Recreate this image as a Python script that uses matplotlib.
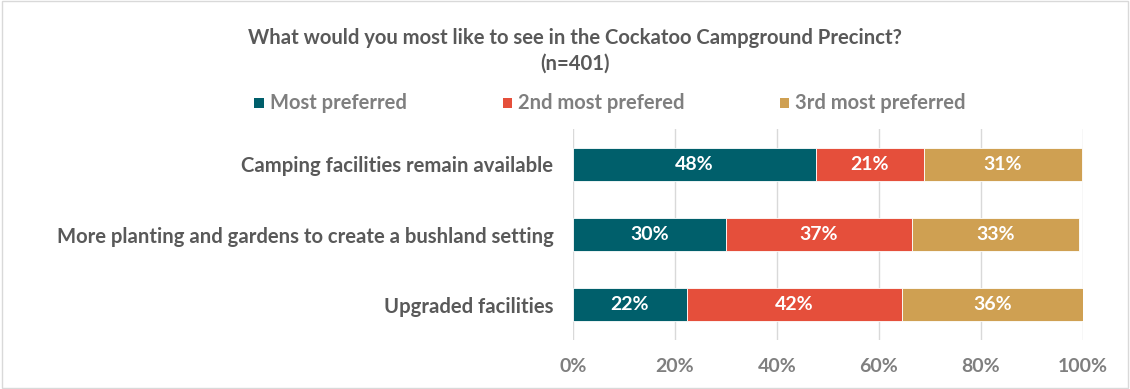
import matplotlib
matplotlib.use('Agg')
import matplotlib.pyplot as plt
from matplotlib.patches import Rectangle
import numpy as np

plt.rcParams['font.family'] = ['Lato', 'DejaVu Sans']

# Data
categories = ['Camping facilities remain available',
              'More planting and gardens to create a bushland setting',
              'Upgraded facilities']
series_names = ['Most preferred', '2nd most prefered', '3rd most preferred']
most_pref = [47.7, 30.0, 22.4]
second_pref = [21.1, 36.5, 42.1]
third_pref = [31.0, 32.8, 35.9]
value_labels = [['48%', '30%', '22%'],
                ['21%', '37%', '42%'],
                ['31%', '33%', '36%']]
ticks = [0, 20, 40, 60, 80, 100]

colors = ['#005F6B', '#E54F3B', '#CFA052']
text_gray = '#595959'

fig = plt.figure(figsize=(11.3, 3.89), dpi=100)
ax = fig.add_axes([0.507, 0.126, 0.451, 0.542])

y = np.arange(len(categories))
left = np.zeros(len(categories))
for i, vals in enumerate([most_pref, second_pref, third_pref]):
    bars = ax.barh(y, vals, left=left, height=0.47, color=colors[i],
                   edgecolor='white', linewidth=0.6, label=series_names[i], zorder=3)
    for j, b in enumerate(bars):
        ax.text(left[j] + vals[j] / 2, y[j], value_labels[i][j], ha='center', va='center',
                color='white', fontsize=14, fontweight='bold', zorder=4)
    left = left + np.array(vals)

ax.set_xlim(0, 100)
ax.set_ylim(len(categories) - 0.5, -0.5)
ax.set_xticks(ticks)
ax.set_xticklabels([f'{t}%' for t in ticks], fontsize=14, fontweight='bold', color='#7F7F7F')
ax.set_yticks(y)
ax.set_yticklabels(categories, fontsize=14.6, fontweight='bold', color=text_gray)
ax.tick_params(axis='both', length=0)
ax.tick_params(axis='x', pad=13)
ax.tick_params(axis='y', pad=14)
ax.grid(axis='x', color='#D9D9D9', linewidth=1, zorder=0)
for s in ax.spines.values():
    s.set_visible(False)

# Title
fig.text(0.509, 0.903, 'What would you most like to see in the Cockatoo Campground Precinct?',
         ha='center', va='center', fontsize=14.6, fontweight='bold', color=text_gray)
fig.text(0.509, 0.836, '(n=401)', ha='center', va='center', fontsize=14.6,
         fontweight='bold', color=text_gray)

# Legend
leg_x = [0.225, 0.445, 0.690]
for i, name in enumerate(series_names):
    fig.patches.append(Rectangle((leg_x[i], 0.722), 0.0085, 0.026, transform=fig.transFigure,
                                 facecolor=colors[i], edgecolor='none'))
    fig.text(leg_x[i] + 0.0135, 0.734, name, ha='left', va='center', fontsize=14.5,
             fontweight='bold', color='#7F7F7F')

# Chart border
fig.patches.append(Rectangle((0.002, 0.003), 0.996, 0.994, transform=fig.transFigure,
                             facecolor='none', edgecolor='#D9D9D9', linewidth=1))

plt.savefig('out.png', dpi=100, facecolor='white')
